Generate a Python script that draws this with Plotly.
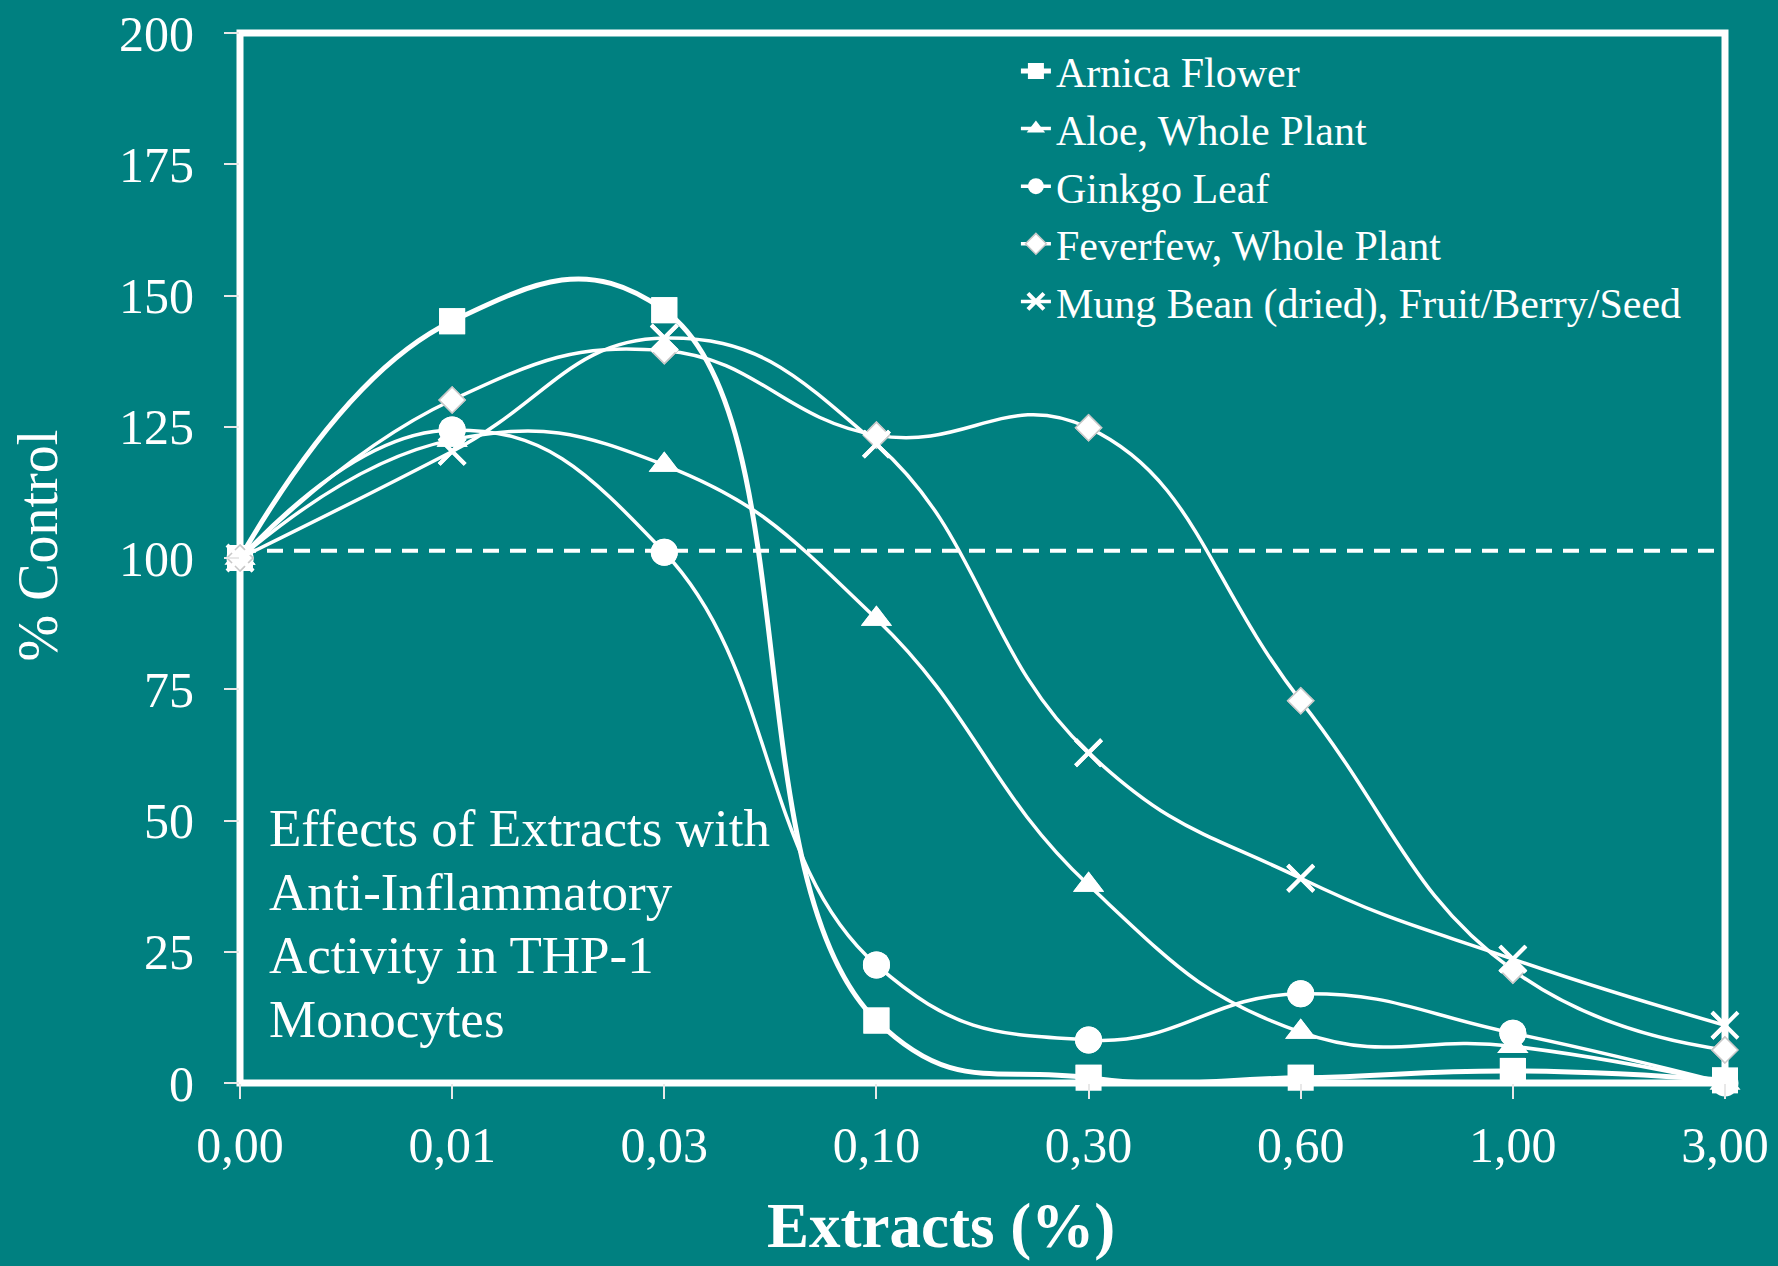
import plotly.graph_objects as go

# Extract concentrations (%) shown as category labels on the x axis
concentrations = ["0,00", "0,01", "0,03", "0,10", "0,30", "0,60", "1,00", "3,00"]

# Response of THP-1 monocytes, % of control
arnica_flower = [100, 145.1, 147.2, 11.9, 1.0, 1.0, 2.3, 0.5]
aloe_whole_plant = [100, 122.5, 117.7, 88.4, 37.7, 9.7, 7.0, 0.0]
ginkgo_leaf = [100, 124.4, 101.1, 22.5, 8.2, 17.0, 9.5, 0.0]
feverfew_whole_plant = [100, 130.1, 139.5, 123.4, 124.8, 72.8, 21.5, 6.3]
mung_bean = [100, 120.3, 141.9, 121.7, 62.9, 39.0, 23.6, 11.0]

series_names = [
    "Arnica Flower",
    "Aloe, Whole Plant",
    "Ginkgo Leaf",
    "Feverfew, Whole Plant",
    "Mung Bean (dried), Fruit/Berry/Seed",
]
series_values = [arnica_flower, aloe_whole_plant, ginkgo_leaf, feverfew_whole_plant, mung_bean]

y_ticks = [0, 25, 50, 75, 100, 125, 150, 175, 200]
control_level = 101.4

note_lines = ["Effects of Extracts with", "Anti-Inflammatory", "Activity in THP-1", "Monocytes"]

BG = "#008080"
WHITE = "#ffffff"
FONT = "Liberation Serif"

marker_styles = [
    dict(symbol="square", size=26, color=WHITE, line=dict(width=0)),
    dict(symbol="triangle-up", size=27, color=WHITE, line=dict(width=0)),
    dict(symbol="circle", size=27, color=WHITE, line=dict(width=0)),
    dict(symbol="diamond", size=20, color=WHITE, line=dict(width=1.5, color="#c8c8c8")),
    dict(symbol="x-thin", size=26, color=WHITE, line=dict(width=4, color=WHITE)),
]
line_widths = [5, 3.5, 3.5, 3.5, 3.5]

fig = go.Figure()

for name, values, mk, lw in zip(series_names, series_values, marker_styles, line_widths):
    # smoothed curve, clipped to the plotting area
    fig.add_trace(go.Scatter(
        x=concentrations, y=values, name=name, mode="lines+markers",
        line=dict(color=WHITE, width=lw, shape="spline", smoothing=1.3),
        marker=mk, cliponaxis=True, legendgroup=name,
    ))
    # markers drawn unclipped so the ones on the frame stay whole
    fig.add_trace(go.Scatter(
        x=concentrations, y=values, mode="markers", marker=mk,
        cliponaxis=False, showlegend=False, legendgroup=name, hoverinfo="skip",
    ))

# plot frame
fig.add_shape(type="rect", xref="paper", yref="paper", x0=0, x1=1, y0=0, y1=1,
              line=dict(color=WHITE, width=7), layer="below")
# dashed control reference line
fig.add_shape(type="line", xref="paper", yref="y", x0=0, x1=1,
              y0=control_level, y1=control_level,
              line=dict(color=WHITE, width=4, dash="16px,11px"), layer="below")

# note inside the plot, one annotation per line for tight line spacing
note_top = 0.243
note_step = 0.0607
for i, line in enumerate(note_lines):
    fig.add_annotation(
        text=line, xref="paper", yref="paper", x=0.018, y=note_top - i * note_step,
        xanchor="left", yanchor="middle", align="left", showarrow=False,
        font=dict(family=FONT, size=53, color=WHITE),
    )

fig.add_annotation(
    text="<b>Extracts (%)</b>", xref="paper", yref="paper", x=0.472, y=-0.136,
    xanchor="center", yanchor="middle", showarrow=False,
    font=dict(family=FONT, size=63, color=WHITE),
)
fig.add_annotation(
    text="% Control", xref="paper", yref="paper", x=-0.136, y=0.512,
    xanchor="center", yanchor="middle", textangle=-90, showarrow=False,
    font=dict(family=FONT, size=56, color=WHITE),
)

fig.update_layout(
    width=1778, height=1266,
    margin=dict(l=240, r=53, t=33, b=183, autoexpand=False),
    paper_bgcolor=BG, plot_bgcolor=BG,
    font=dict(family=FONT, color=WHITE),
    showlegend=True,
    legend=dict(
        x=0.5225, y=0.996, xanchor="left", yanchor="top",
        bgcolor="rgba(0,0,0,0)", borderwidth=0,
        font=dict(family=FONT, size=42, color=WHITE),
        tracegroupgap=0,
    ),
    xaxis=dict(
        type="category", range=[0, 7], showgrid=False, zeroline=False, showline=False,
        ticks="outside", ticklen=15, tickwidth=2, tickcolor="#e8e8e8", automargin=False,
        tickfont=dict(family=FONT, size=50, color=WHITE), ticklabelstandoff=3,
    ),
    yaxis=dict(
        range=[0, 200], tickvals=y_ticks, showgrid=False, zeroline=False, showline=False,
        ticks="outside", ticklen=15, tickwidth=2, tickcolor="#e8e8e8", automargin=False,
        tickfont=dict(family=FONT, size=50, color=WHITE), ticklabelstandoff=20,
    ),
)

fig.write_html("out.html")
